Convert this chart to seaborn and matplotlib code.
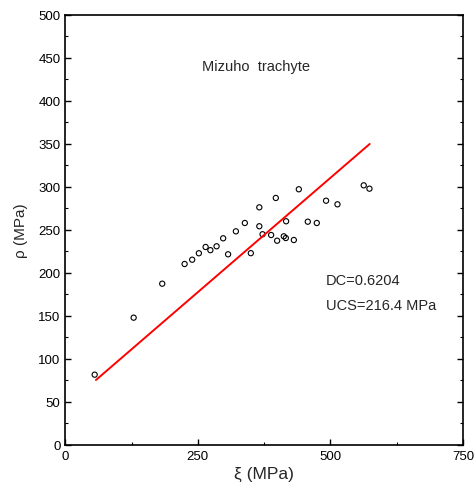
import matplotlib
matplotlib.use("Agg")
import matplotlib.pyplot as plt
import seaborn as sns
import pandas as pd
from matplotlib.ticker import MultipleLocator

sns.set_style("white")
plt.rcParams['font.family'] = ['Liberation Sans', 'DejaVu Sans']

# Measured data: xi (MPa) vs rho (MPa)
xi = [55.4, 128.9, 182.8, 225.0, 239.3, 251.9, 264.6, 273.6, 285.3, 297.7,
      307.0, 321.7, 338.6, 349.9, 365.9, 365.9, 372.0, 388.2, 397.0, 399.5,
      412.1, 415.9, 416.4, 431.0, 440.4, 457.3, 474.3, 491.8, 513.3, 562.8, 573.6]
rho = [81.4, 147.7, 187.2, 210.1, 215.1, 222.6, 229.9, 226.2, 230.7, 240.0,
       221.4, 248.1, 257.8, 222.7, 276.0, 254.0, 244.7, 243.8, 286.9, 237.2,
       242.3, 240.3, 259.8, 238.0, 297.0, 259.3, 257.8, 283.7, 279.5, 301.6, 297.7]

# Fitted line
fit_x = [57.8, 574.1]
fit_y = [75.2, 349.7]

title_text = "Mizuho  trachyte"
dc_text = "DC=0.6204"
ucs_text = "UCS=216.4 MPa"

df = pd.DataFrame({"xi": xi, "rho": rho})
fit = pd.DataFrame({"x": fit_x, "y": fit_y})

fig = plt.figure(figsize=(4.77, 5.02), dpi=100)
ax = fig.add_axes([0.1369, 0.1122, 0.8337, 0.8565])

sns.lineplot(data=fit, x="x", y="y", ax=ax, color="#ff0000", linewidth=1.4)
sns.scatterplot(data=df, x="xi", y="rho", ax=ax, marker="o", s=14,
                facecolors="none", edgecolor="black", linewidth=0.8)

ax.set_xlim(0, 750)
ax.set_ylim(0, 500)
ax.xaxis.set_major_locator(MultipleLocator(250))
ax.xaxis.set_minor_locator(MultipleLocator(125))
ax.yaxis.set_major_locator(MultipleLocator(50))
ax.yaxis.set_minor_locator(MultipleLocator(25))
ax.tick_params(which="both", direction="in", top=False, right=True,
               left=True, bottom=True, labelsize=9.5, colors="black")
ax.tick_params(which="major", length=4, width=1)
ax.tick_params(which="minor", length=2.5, width=0.8)
for sp in ax.spines.values():
    sp.set_color("black")
    sp.set_linewidth(1.2)

ax.set_xlabel("ξ (MPa)", fontsize=12.5, labelpad=3)
ax.set_ylabel("ρ (MPa)", fontsize=11, labelpad=7)

ax.text(360, 440, title_text, fontsize=10.5, ha="center", va="center")
ax.text(491, 191, dc_text, fontsize=10.5, ha="left", va="center")
ax.text(491, 163, ucs_text, fontsize=10.5, ha="left", va="center")

fig.savefig("out.png", dpi=100)
